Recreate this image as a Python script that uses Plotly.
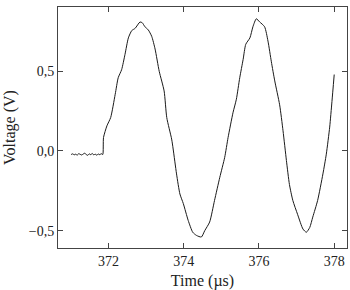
import plotly.graph_objects as go

# Baseline (pre-trigger noise)
t_flat = [371.01, 371.05, 371.09, 371.13, 371.17, 371.21, 371.25, 371.29, 371.33,
          371.37, 371.41, 371.45, 371.49, 371.53, 371.57, 371.61, 371.65, 371.69,
          371.73, 371.77, 371.81, 371.85]
v_flat = [-0.022, -0.018, -0.024, -0.020, -0.026, -0.017, -0.021, -0.025, -0.019,
          -0.014, -0.022, -0.027, -0.018, -0.023, -0.016, -0.024, -0.020, -0.026,
          -0.019, -0.023, -0.017, -0.022]

# Oscillation
t_osc = [371.87, 371.96, 372.06, 372.18, 372.26, 372.35, 372.44, 372.53, 372.62,
         372.71, 372.84, 372.90, 372.97, 373.06, 373.15, 373.24, 373.35, 373.48,
         373.55, 373.68, 373.72, 373.81, 373.90, 373.99, 374.12, 374.24, 374.34,
         374.47, 374.56, 374.69, 374.82, 374.96, 375.09, 375.18, 375.31, 375.40,
         375.49, 375.58, 375.65, 375.76, 375.84, 375.93, 376.02, 376.15, 376.24,
         376.33, 376.42, 376.55, 376.64, 376.73, 376.81, 376.90, 377.03, 377.17,
         377.26, 377.35, 377.43, 377.56, 377.70, 377.79, 377.88, 377.94, 378.00]
v_osc = [0.085, 0.158, 0.21, 0.356, 0.46, 0.51, 0.606, 0.71, 0.756,
         0.77, 0.81, 0.805, 0.78, 0.76, 0.72, 0.64, 0.50, 0.377,
         0.21, 0.075, 0.0125, -0.144, -0.27, -0.33, -0.436, -0.51, -0.53,
         -0.54, -0.50, -0.446, -0.31, -0.165, -0.04, 0.085, 0.24, 0.325,
         0.46, 0.575, 0.67, 0.71, 0.78, 0.83, 0.81, 0.78, 0.69,
         0.56, 0.44, 0.29, 0.127, -0.06, -0.21, -0.31, -0.40, -0.49,
         -0.51, -0.48, -0.415, -0.31, -0.144, -0.02, 0.15, 0.31, 0.48]

time_us = t_flat + t_osc
voltage = v_flat + v_osc

x_ticks = [372, 374, 376, 378]
x_labels = ["372", "374", "376", "378"]
y_ticks = [-0.5, 0.0, 0.5]
y_labels = ["\u22120,5", "0,0", "0,5"]

font_family = "Liberation Serif"
frame_color = "#444444"

fig = go.Figure()
fig.add_trace(go.Scatter(
    x=time_us, y=voltage, mode="lines",
    line=dict(color="#1a1a1a", width=1, shape="spline", smoothing=0.6),
    hoverinfo="skip", showlegend=False,
))

axis_common = dict(
    showline=True, linecolor=frame_color, linewidth=1,
    mirror="ticks", ticks="inside", ticklen=5, tickcolor=frame_color,
    tickwidth=1, showgrid=False, zeroline=False, automargin=False,
    tickfont=dict(family=font_family, size=14, color="#222222"),
)

fig.update_layout(
    width=350, height=290,
    margin=dict(l=58, r=3, t=7, b=42),
    paper_bgcolor="white", plot_bgcolor="white",
    font=dict(family=font_family, size=14, color="#222222"),
    xaxis=dict(
        range=[370.66, 378.34], tickvals=x_ticks, ticktext=x_labels,
        title=dict(text="Time (\u00b5s)", standoff=11,
                   font=dict(family=font_family, size=16)),
        **axis_common,
    ),
    yaxis=dict(
        range=[-0.609, 0.904], tickvals=y_ticks, ticktext=y_labels,
        title=dict(text="Voltage (V)", standoff=9,
                   font=dict(family=font_family, size=16)),
        **axis_common,
    ),
)

fig.write_html("out.html")
